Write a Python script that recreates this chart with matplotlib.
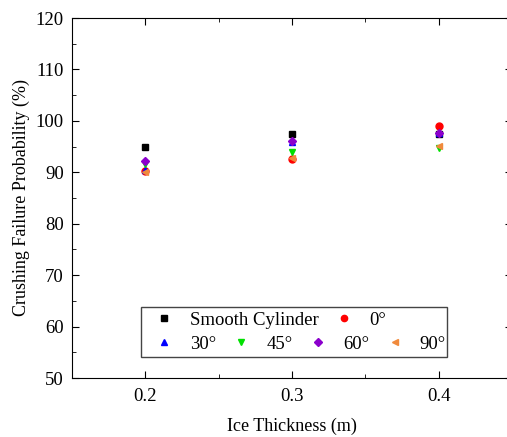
import matplotlib
matplotlib.use("Agg")
import matplotlib.pyplot as plt
from matplotlib.patches import Rectangle
from matplotlib.ticker import MultipleLocator

plt.rcParams["font.family"] = ["Liberation Serif", "DejaVu Serif"]

# data
thickness = [0.2, 0.3, 0.4]
smooth = [95.0, 97.4, 97.5]
deg0 = [90.3, 92.6, 99.0]
deg30 = [90.5, 95.8, 97.6]
deg45 = [91.6, 94.0, 94.8]
deg60 = [92.1, 96.1, 97.6]
deg90 = [90.0, 92.7, 95.2]

series = [
    ("Smooth Cylinder", smooth, "s", "black"),
    ("0°", deg0, "o", "red"),
    ("30°", deg30, "^", "blue"),
    ("45°", deg45, "v", "#00E000"),
    ("60°", deg60, "D", "#8B00CC"),
    ("90°", deg90, "<", "#F08A3C"),
]

fig = plt.figure(figsize=(5.07, 4.37), dpi=100)
ax = fig.add_axes([72 / 507, 59 / 437, 440 / 507, 360 / 437])

handles = []
for label, vals, marker, color in series:
    ms = 5 if marker != "D" else 4.5
    h, = ax.plot(thickness, vals, linestyle="none", marker=marker, ms=ms,
                 color=color, label=label)
    handles.append(h)

ax.set_xlim(0.15, 0.45)
ax.set_ylim(50, 120)
ax.xaxis.set_major_locator(MultipleLocator(0.1))
ax.xaxis.set_minor_locator(MultipleLocator(0.05))
ax.yaxis.set_major_locator(MultipleLocator(10))
ax.yaxis.set_minor_locator(MultipleLocator(5))
ax.tick_params(which="both", direction="in", top=True, right=True, labelsize=13.5)
ax.tick_params(which="major", length=5)
ax.tick_params(which="minor", length=3)
ax.tick_params(axis="x", which="major", pad=7)
ax.tick_params(axis="y", which="major", pad=6)
ax.set_xlabel("Ice Thickness (m)", fontsize=13, labelpad=9)
ax.set_ylabel("Crushing Failure Probability (%)", fontsize=13)

# legend box (two rows, drawn as two frameless legends inside one frame)
frame = Rectangle((0.157, 0.058), 0.695, 0.139, transform=ax.transAxes,
                  facecolor="white", edgecolor="#444444", lw=1, zorder=4)
ax.add_patch(frame)
opts = dict(frameon=False, fontsize=13.5, handlelength=1.5, handletextpad=0.6,
            columnspacing=0.6, borderpad=0, borderaxespad=0, markerscale=0.9,
            loc="center left")
leg1 = ax.legend(handles[:2], [s[0] for s in series[:2]], ncol=2,
                 bbox_to_anchor=(0.178, 0.161), **opts)
leg1.set_zorder(5)
ax.add_artist(leg1)
leg2 = ax.legend(handles[2:], [s[0] for s in series[2:]], ncol=4,
                 bbox_to_anchor=(0.178, 0.094), **opts)
leg2.set_zorder(5)

fig.savefig("out.png", dpi=100)
